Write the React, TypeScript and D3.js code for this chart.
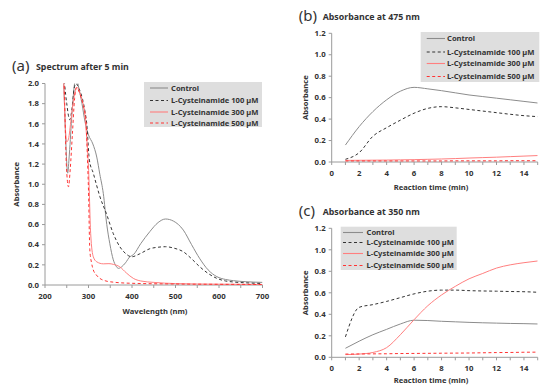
import React from "react";
import * as d3 from "d3";

const seriesNames = ["Control", "L-Cysteinamide 100 µM", "L-Cysteinamide 300 µM", "L-Cysteinamide 500 µM"];
const seriesColors = ["#8c8c8c", "#333333", "#ff7f7f", "#ff3333"];
const seriesDash = [null, "3,2.5", null, "3,2.5"];

// Panel (a) spectrum
const specControl: [number, number][] = [[238, 2.3], [243, 2.0], [248, 1.4], [252, 1.11], [256, 1.3], [262, 1.7], [268, 2.0], [272, 2.05], [278, 1.95], [285, 1.8], [292, 1.62], [300, 1.49], [310, 1.4], [319, 1.27], [326, 1.1], [334, 0.91], [342, 0.6], [349, 0.41], [357, 0.25], [363, 0.19], [369, 0.165], [376, 0.18], [385, 0.22], [395, 0.28], [403, 0.3], [420, 0.41], [441, 0.53], [460, 0.62], [477, 0.655], [495, 0.635], [518, 0.545], [537, 0.4], [556, 0.26], [575, 0.15], [595, 0.083], [615, 0.055], [633, 0.043], [660, 0.033], [700, 0.026]];
const spec100: [number, number][] = [[240, 2.3], [245, 2.0], [250, 1.8], [257, 1.64], [262, 1.75], [267, 1.95], [271, 2.0], [278, 1.95], [286, 1.85], [292, 1.72], [296, 1.6], [302, 1.24], [311, 1.11], [318, 1.0], [326, 0.88], [341, 0.71], [357, 0.51], [372, 0.38], [386, 0.31], [399, 0.28], [418, 0.31], [441, 0.36], [460, 0.375], [477, 0.38], [497, 0.365], [518, 0.33], [537, 0.26], [556, 0.18], [575, 0.115], [595, 0.066], [615, 0.04], [633, 0.03], [660, 0.022], [700, 0.015]];
const spec300: [number, number][] = [[238, 2.3], [243, 2.0], [247, 1.55], [250, 1.42], [254, 1.45], [260, 1.65], [266, 1.85], [274, 1.96], [282, 1.88], [292, 1.67], [296, 1.45], [300, 1.17], [305, 0.51], [311, 0.28], [319, 0.23], [334, 0.21], [347, 0.212], [357, 0.205], [372, 0.18], [387, 0.12], [403, 0.066], [420, 0.04], [450, 0.026], [500, 0.014], [600, 0.008], [700, 0.005]];
const spec500: [number, number][] = [[239, 2.3], [244, 2.0], [249, 1.2], [254, 0.975], [258, 1.15], [263, 1.5], [268, 1.85], [272, 1.96], [280, 1.9], [288, 1.78], [294, 1.64], [298, 1.2], [300, 0.94], [303, 0.35], [307, 0.22], [311, 0.15], [318, 0.1], [326, 0.066], [340, 0.04], [360, 0.027], [400, 0.017], [500, 0.01], [600, 0.007], [700, 0.005]];

// Panels (b) and (c) kinetics
const times = [1, 2, 3, 4, 5, 6, 7, 8, 9, 10, 11, 12, 13, 14, 15];
const b475Control = [0.158, 0.33, 0.47, 0.58, 0.66, 0.696, 0.682, 0.665, 0.645, 0.625, 0.61, 0.595, 0.58, 0.565, 0.55];
const b475_100 = [0.025, 0.087, 0.24, 0.32, 0.39, 0.455, 0.5, 0.516, 0.505, 0.49, 0.475, 0.46, 0.445, 0.432, 0.423];
const b475_300 = [0.015, 0.016, 0.017, 0.018, 0.02, 0.022, 0.025, 0.028, 0.032, 0.037, 0.041, 0.045, 0.05, 0.055, 0.06];
const b475_500 = [0.01, 0.01, 0.01, 0.01, 0.01, 0.01, 0.01, 0.01, 0.011, 0.011, 0.011, 0.011, 0.012, 0.012, 0.012];

const c350Control = [0.084, 0.15, 0.21, 0.26, 0.31, 0.345, 0.342, 0.335, 0.33, 0.325, 0.321, 0.318, 0.315, 0.313, 0.31];
const c350_100 = [0.19, 0.465, 0.49, 0.52, 0.555, 0.59, 0.615, 0.625, 0.625, 0.62, 0.617, 0.615, 0.612, 0.61, 0.605];
const c350_300 = [0.025, 0.03, 0.045, 0.09, 0.21, 0.35, 0.48, 0.58, 0.66, 0.73, 0.78, 0.83, 0.86, 0.88, 0.896];
const c350_500 = [0.03, 0.031, 0.032, 0.033, 0.035, 0.036, 0.037, 0.038, 0.039, 0.04, 0.042, 0.044, 0.045, 0.047, 0.048];

const specTicksX = [200, 300, 400, 500, 600, 700];
const specMinorX = [200, 250, 300, 350, 400, 450, 500, 550, 600, 650, 700];
const specTicksY = [0, 0.2, 0.4, 0.6, 0.8, 1.0, 1.2, 1.4, 1.6, 1.8, 2.0];
const timeTicksX = [0, 2, 4, 6, 8, 10, 12, 14];
const timeMinorX = [0, 1, 2, 3, 4, 5, 6, 7, 8, 9, 10, 11, 12, 13, 14, 15];
const timeTicksY = [0, 0.2, 0.4, 0.6, 0.8, 1.0, 1.2];

const FONT = "'Noto Sans', 'DejaVu Sans', sans-serif";
const AXIS = "#9a9a9a";
const TXT = "#333";

type Pt = [number, number];

function Panel(props: {
  id: string;
  x0: number; x1: number; y0: number; y1: number;
  xDomain: [number, number]; yDomain: [number, number];
  xTicks: number[]; xMinor: number[]; yTicks: number[];
  series: Pt[][];
  letter: string; title: string; titleY: number;
  xLabel: string; xLabelY: number; xLabelX: number;
  yLabelX: number;
  legend: { x0: number; x1: number; y0: number; y1: number; rows: number[]; lx0: number; lx1: number; tx: number };
}) {
  const p = props;
  const xs = d3.scaleLinear().domain(p.xDomain).range([p.x0, p.x1]);
  const ys = d3.scaleLinear().domain(p.yDomain).range([p.y1, p.y0]);
  const line = d3.line<Pt>().x(d => xs(d[0])).y(d => ys(d[1])).curve(d3.curveMonotoneX);
  const fmtY = d3.format(".1f");
  return (
    <g>
      <defs>
        <clipPath id={"clip" + p.id}>
          <rect x={p.x0} y={p.y0} width={p.x1 - p.x0} height={p.y1 - p.y0} />
        </clipPath>
      </defs>
      <text x={p.x0 - 33} y={p.titleY} fontSize={15} fontFamily={FONT} fill={TXT}>{p.letter}</text>
      <text x={p.x0 - 9} y={p.titleY - 1} fontSize={8.8} fontWeight="bold" fontFamily={FONT} fill={TXT}>{p.title}</text>
      {/* axes */}
      <line x1={p.x0} x2={p.x0} y1={p.y0} y2={p.y1} stroke={AXIS} strokeWidth={1} />
      <line x1={p.x0} x2={p.x1} y1={p.y1} y2={p.y1} stroke={AXIS} strokeWidth={1} />
      {p.yTicks.map(t => (
        <g key={"y" + t}>
          <line x1={p.x0 - 3} x2={p.x0} y1={ys(t)} y2={ys(t)} stroke={AXIS} />
          <text x={p.x0 - 6} y={ys(t)} dy="0.35em" textAnchor="end" fontSize={7.8} fontWeight="bold" fontFamily={FONT} fill={TXT}>{fmtY(t)}</text>
        </g>
      ))}
      {p.xMinor.map(t => (
        <line key={"m" + t} x1={xs(t)} x2={xs(t)} y1={p.y1} y2={p.y1 + 3} stroke={AXIS} />
      ))}
      {p.xTicks.map(t => (
        <text key={"x" + t} x={xs(t)} y={p.y1 + 14} textAnchor="middle" fontSize={7.8} fontWeight="bold" fontFamily={FONT} fill={TXT}>{t}</text>
      ))}
      <text x={p.xLabelX} y={p.xLabelY} textAnchor="middle" fontSize={7.6} fontWeight="bold" fontFamily={FONT} fill={TXT}>{p.xLabel}</text>
      <text transform={`translate(${p.yLabelX},${(p.y0 + p.y1) / 2}) rotate(-90)`} textAnchor="middle" fontSize={7.6} fontWeight="bold" fontFamily={FONT} fill={TXT}>Absorbance</text>
      {/* legend */}
      <rect x={p.legend.x0} y={p.legend.y0} width={p.legend.x1 - p.legend.x0} height={p.legend.y1 - p.legend.y0} fill="#dedede" />
      {seriesNames.map((n, i) => (
        <g key={n}>
          <line x1={p.legend.lx0} x2={p.legend.lx1} y1={p.legend.rows[i]} y2={p.legend.rows[i]} stroke={seriesColors[i]} strokeWidth={1.1} strokeDasharray={seriesDash[i] || undefined} />
          <text x={p.legend.tx} y={p.legend.rows[i]} dy="0.35em" fontSize={7.6} fontWeight="bold" fontFamily={FONT} fill={TXT}>{n}</text>
        </g>
      ))}
      <g clipPath={`url(#clip${p.id})`}>
        {p.series.map((s, i) => (
          <path key={i} d={line(s) || ""} fill="none" stroke={seriesColors[i]} strokeWidth={1} strokeDasharray={seriesDash[i] || undefined} />
        ))}
      </g>
    </g>
  );
}

const zipT = (v: number[]): Pt[] => times.map((t, i) => [t, v[i]]);

export default function App() {
  return (
    <svg width={550} height={390} style={{ position: "absolute", left: 0, top: 0, background: "#fff" }}>
      <Panel
        id="a" x0={45} x1={262.5} y0={83.5} y1={285}
        xDomain={[200, 700]} yDomain={[0, 2]}
        xTicks={specTicksX} xMinor={specMinorX} yTicks={specTicksY}
        series={[specControl, spec100, spec300, spec500]}
        letter="(a)" title="Spectrum after 5 min" titleY={71}
        xLabel="Wavelength (nm)" xLabelX={155} xLabelY={313.5} yLabelX={19}
        legend={{ x0: 144, x1: 262, y0: 82, y1: 127, rows: [88, 100.5, 112, 123], lx0: 150, lx1: 168, tx: 171 }}
      />
      <Panel
        id="b" x0={331.7} x1={537.7} y0={33.3} y1={162}
        xDomain={[0, 15]} yDomain={[0, 1.2]}
        xTicks={timeTicksX} xMinor={timeMinorX} yTicks={timeTicksY}
        series={[zipT(b475Control), zipT(b475_100), zipT(b475_300), zipT(b475_500)]}
        letter="(b)" title="Absorbance at 475 nm" titleY={21}
        xLabel="Reaction time (min)" xLabelX={431} xLabelY={189.5} yLabelX={308}
        legend={{ x0: 420.7, x1: 539.3, y0: 32, y1: 82, rows: [38.5, 52, 63.5, 76.5], lx0: 426.7, lx1: 445, tx: 447 }}
      />
      <Panel
        id="c" x0={331.7} x1={537.7} y0={228.3} y1={357.3}
        xDomain={[0, 15]} yDomain={[0, 1.2]}
        xTicks={timeTicksX} xMinor={timeMinorX} yTicks={timeTicksY}
        series={[zipT(c350Control), zipT(c350_100), zipT(c350_300), zipT(c350_500)]}
        letter="(c)" title="Absorbance at 350 nm" titleY={216}
        xLabel="Reaction time (min)" xLabelX={431} xLabelY={382.5} yLabelX={308}
        legend={{ x0: 340.7, x1: 456.7, y0: 226.7, y1: 270, rows: [232.5, 242.5, 253.5, 265.5], lx0: 343, lx1: 363, tx: 366.5 }}
      />
    </svg>
  );
}
